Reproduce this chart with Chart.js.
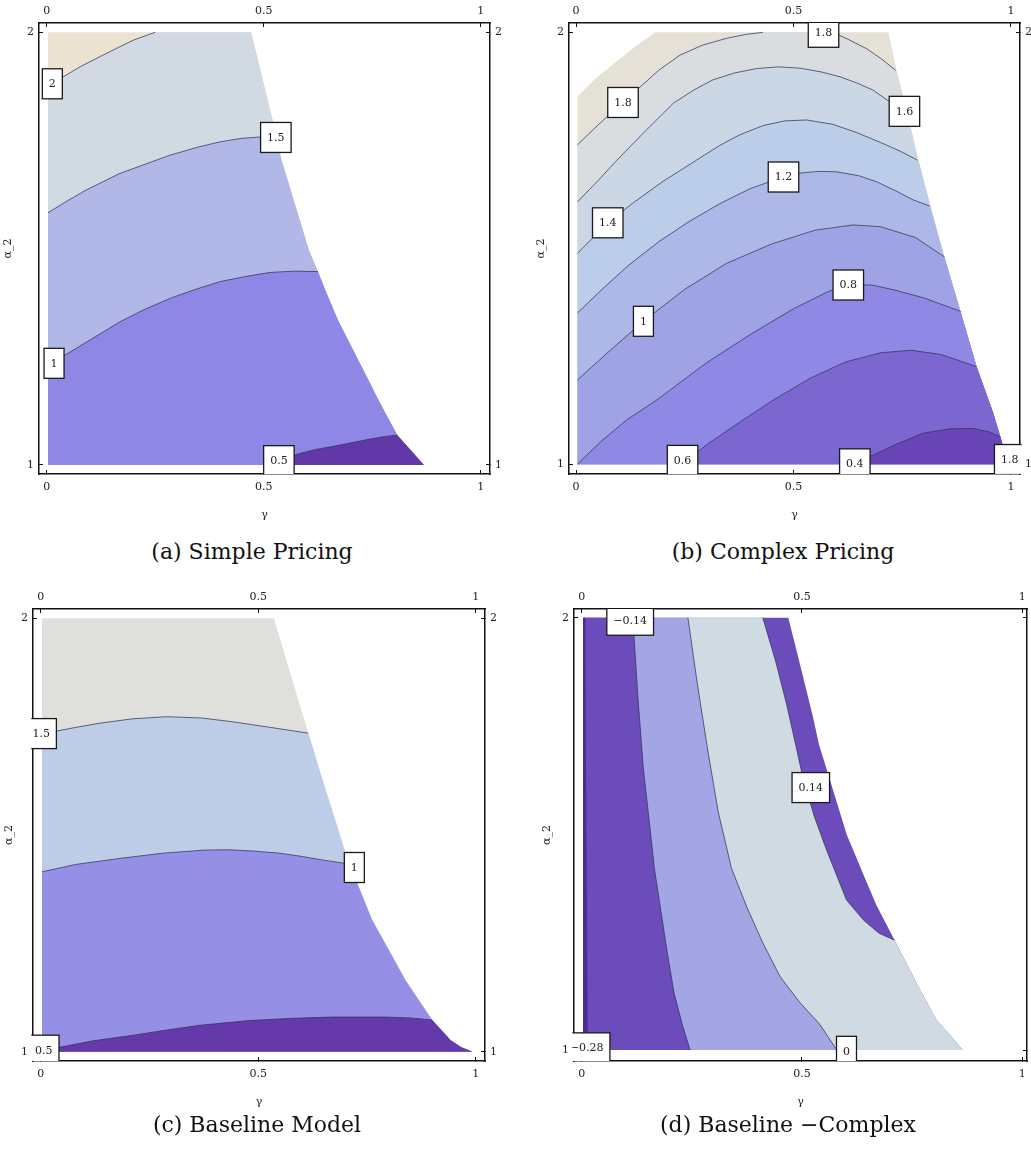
<!DOCTYPE html>
<html>
<head>
<meta charset="utf-8">
<title>Contour comparison of pricing models</title>
<script src="https://cdn.jsdelivr.net/npm/chart.js@4.4.1/dist/chart.umd.min.js"></script>
<style>
  html, body { margin: 0; padding: 0; background: #fff; }
  #page { position: relative; width: 1031px; height: 1155px; overflow: hidden; background: #fff; }
  #page canvas { position: absolute; }
  .cap { position: absolute; font-family: "DejaVu Serif", serif; font-size: 22px; line-height: 22px;
         color: #111; white-space: nowrap; transform: translateX(-50%); }
</style>
</head>
<body>
<div id="page">
  <canvas id="pa"></canvas>
  <canvas id="pb"></canvas>
  <canvas id="pc"></canvas>
  <canvas id="pd"></canvas>
  <div class="cap" style="left:252px; top:541px;">(a) Simple Pricing</div>
  <div class="cap" style="left:783px; top:541px;">(b) Complex Pricing</div>
  <div class="cap" style="left:257px; top:1114px;">(c) Baseline Model</div>
  <div class="cap" style="left:788px; top:1114px;">(d) Baseline −Complex</div>
</div>
<script>
// ---- axes ----
const gammaTicks = [0, 0.5, 1];
const alphaTicks = [1, 2];

// ---- (a) Simple Pricing: points are [gamma, alpha_2] ----
const aEdge = [[0.003,2.0],[0.471,2.0],[0.498,1.89],[0.526,1.774],[0.541,1.705],[0.562,1.636],[0.583,1.566],
  [0.604,1.497],[0.623,1.451],[0.642,1.404],[0.671,1.335],[0.706,1.266],[0.741,1.197],[0.764,1.151],[0.789,1.104],
  [0.808,1.069],[0.838,1.035],[0.869,1.0]];
const aLevel20 = [[0.003,1.875],[0.036,1.896],[0.08,1.922],[0.123,1.944],[0.165,1.965],[0.2,1.982],[0.25,2.0]];
const aLevel15 = [[0.003,1.583],[0.05,1.612],[0.092,1.636],[0.169,1.674],[0.284,1.716],[0.35,1.735],[0.40,1.747],
  [0.45,1.755],[0.49,1.758],[0.53,1.755]];
const aLevel10 = [[0.003,1.23],[0.042,1.254],[0.1,1.289],[0.169,1.331],[0.22,1.357],[0.284,1.385],[0.34,1.405],
  [0.40,1.424],[0.46,1.436],[0.515,1.445],[0.57,1.448],[0.625,1.447]];
const aLevel05 = [[0.50,1.0],[0.535,1.012],[0.57,1.023],[0.62,1.036],[0.676,1.046],[0.745,1.06],[0.78,1.066],[0.808,1.069]];
const aColors = ['#ece3d3','#d1dae2','#b1b8e8','#8e87e5','#6238a9'];
const aLabels = [['2',0.013,1.881],['1.5',0.528,1.757],['1',0.017,1.235],['0.5',0.535,1.01]];

// ---- (b) Complex Pricing ----
const bEdge = [[0.003,1.851],[0.045,1.893],[0.09,1.93],[0.135,1.966],[0.182,2.0],[0.718,2.0],[0.737,1.912],
  [0.762,1.81],[0.787,1.704],[0.814,1.6],[0.844,1.489],[0.883,1.357],[0.921,1.226],[0.959,1.119],[0.979,1.052],[0.99,1.0]];
const bLevel18a = [[0.003,1.739],[0.05,1.785],[0.108,1.8375],[0.147,1.873],[0.19,1.912],[0.239,1.947],[0.29,1.97],
  [0.346,1.986],[0.39,1.995],[0.43,2.0]];
const bLevel18b = [[0.59,2.0],[0.625,1.984],[0.668,1.962],[0.7,1.94],[0.735,1.912]];
const bLevel16 = [[0.003,1.607],[0.05,1.656],[0.094,1.704],[0.16,1.772],[0.224,1.836],[0.27,1.866],[0.315,1.89],
  [0.365,1.906],[0.415,1.916],[0.465,1.92],[0.515,1.917],[0.565,1.908],[0.607,1.897],[0.645,1.883],[0.683,1.866],
  [0.72,1.84],[0.762,1.81]];
const bLevel14 = [[0.003,1.488],[0.073,1.559],[0.13,1.604],[0.2,1.655],[0.277,1.704],[0.33,1.738],[0.377,1.763],
  [0.43,1.784],[0.48,1.795],[0.53,1.797],[0.59,1.787],[0.645,1.768],[0.7,1.745],[0.745,1.725],[0.785,1.704]];
const bLevel12 = [[0.003,1.35],[0.06,1.405],[0.12,1.46],[0.19,1.515],[0.26,1.562],[0.33,1.603],[0.4,1.638],
  [0.477,1.665],[0.513,1.674],[0.56,1.678],[0.599,1.677],[0.65,1.668],[0.691,1.654],[0.735,1.633],[0.775,1.612],[0.813,1.598]];
const bLevel10 = [[0.003,1.195],[0.08,1.265],[0.155,1.331],[0.25,1.405],[0.346,1.465],[0.45,1.51],[0.55,1.542],
  [0.637,1.554],[0.7,1.55],[0.78,1.525],[0.847,1.48]];
const bLevel08 = [[0.003,1.0],[0.06,1.055],[0.117,1.103],[0.186,1.149],[0.3,1.235],[0.4,1.3],[0.5,1.36],[0.58,1.4],
  [0.626,1.415],[0.68,1.415],[0.73,1.404],[0.8,1.385],[0.884,1.354]];
const bLevel06 = [[0.245,1.0],[0.3,1.045],[0.38,1.1],[0.454,1.149],[0.54,1.2],[0.62,1.237],[0.7,1.258],[0.77,1.264],
  [0.84,1.254],[0.921,1.226]];
const bLevel04 = [[0.625,1.0],[0.676,1.018],[0.74,1.048],[0.798,1.072],[0.86,1.082],[0.913,1.083],[0.95,1.075],[0.975,1.064]];
const bColors = ['#e6e1d6','#d9dde0','#cbd7e5','#bccde9','#adb8e8','#9fa3e6','#8f88e5','#7c66d0','#6a45b7'];
const bLabels = [['1.8',0.108,1.8375],['1.8',0.569,2.0],['1.6',0.755,1.817],['1.4',0.073,1.559],['1.2',0.477,1.665],
  ['1',0.155,1.331],['0.8',0.626,1.415],['0.6',0.245,1.009],['0.4',0.641,1.001],['1.8',0.997,1.011]];

// ---- (c) Baseline Model ----
const cEdge = [[0.003,2.0],[0.536,2.0],[0.564,1.906],[0.592,1.812],[0.62,1.72],[0.648,1.627],[0.677,1.535],
  [0.706,1.442],[0.734,1.373],[0.762,1.304],[0.8,1.235],[0.838,1.166],[0.869,1.119],[0.9,1.073],[0.921,1.05],
  [0.942,1.027],[0.966,1.011],[0.993,1.0]];
const cLevel15 = [[0.003,1.733],[0.037,1.74],[0.09,1.75],[0.136,1.758],[0.21,1.768],[0.29,1.773],[0.37,1.77],
  [0.443,1.761],[0.53,1.748],[0.615,1.735]];
const cLevel10 = [[0.003,1.415],[0.08,1.432],[0.182,1.446],[0.28,1.458],[0.374,1.465],[0.43,1.466],[0.489,1.463],
  [0.55,1.458],[0.604,1.45],[0.65,1.442],[0.71,1.433]];
const cLevel05 = [[0.003,1.0],[0.043,1.01],[0.12,1.025],[0.213,1.038],[0.29,1.05],[0.366,1.061],[0.481,1.072],
  [0.58,1.077],[0.673,1.08],[0.788,1.08],[0.85,1.078],[0.9,1.073]];
const cColors = ['#dfe0dc','#bdcde8','#958fe5','#6539a9'];
const cLabels = [['1.5',0.001,1.734],['1',0.721,1.425],['0.5',0.007,1.0035]];

// ---- (d) Baseline - Complex ----
const dEdge = [[0.003,2.0],[0.469,2.0],[0.496,1.89],[0.524,1.774],[0.539,1.705],[0.56,1.636],[0.581,1.566],
  [0.602,1.497],[0.621,1.451],[0.64,1.404],[0.669,1.335],[0.704,1.266],[0.739,1.197],[0.762,1.151],[0.787,1.104],
  [0.806,1.069],[0.836,1.035],[0.865,1.0]];
const dLevelP14 = [[0.411,2.0],[0.44,1.9],[0.465,1.8],[0.487,1.7],[0.503,1.625],[0.528,1.54],[0.556,1.462],
  [0.601,1.347],[0.64,1.3],[0.675,1.27],[0.71,1.254]];
const dLevel0 = [[0.241,2.0],[0.262,1.85],[0.285,1.7],[0.31,1.55],[0.34,1.42],[0.375,1.33],[0.41,1.25],[0.45,1.17],
  [0.495,1.11],[0.54,1.06],[0.579,1.0]];
const dLevelM14 = [[0.116,2.0],[0.128,1.81],[0.14,1.65],[0.151,1.55],[0.165,1.42],[0.18,1.32],[0.195,1.22],
  [0.21,1.13],[0.228,1.06],[0.246,1.0]];
const dLevelM28 = [[0.008,2.0],[0.01,1.6],[0.012,1.3],[0.014,1.0]];
const dColors = ['#6c4bbb','#cfdae2','#a3a5e5','#6c4bbb','#4c2b99'];
const dLabels = [['−0.14',0.110,1.994],['0.14',0.52,1.607],['0',0.601,0.997],['−0.28',0.011,1.005]];

// ---- drawing ----
const LINE_COLOR = 'rgba(50,52,85,0.75)';
const CLEAR = 'rgba(0,0,0,0)';
const tickFont = { family: 'DejaVu Serif', size: 11 };

function toXY(pts) { return pts.map(([x, y]) => ({ x, y })); }

// Closed outline of the part of the domain lying below / left of a contour line;
// s..e is the index range of the contour itself inside that outline.
function regionBelow(contour, edge) {
  const pre = [];
  const first = contour[0], last = contour[contour.length - 1];
  if (first[1] >= 2) pre.push([edge[0][0], 1], [edge[0][0], 2]);   // line enters through the top edge
  else if (first[1] > 1) pre.push([first[0], 1]);                  // line enters through the left edge
  const tail = last[1] > 1 ? edge.filter(p => p[0] > last[0] && p[1] <= last[1]) : [];
  return { pts: [...pre, ...contour, ...tail], s: pre.length, e: pre.length + contour.length - 1 };
}

function axis(position, range, ticksArr, size, pad, title) {
  const horiz = position === 'top' || position === 'bottom';
  return {
    type: 'linear', position, min: range[0], max: range[1],
    afterBuildTicks: s => { s.ticks = ticksArr.map(v => ({ value: v })); },
    afterFit: s => { if (horiz) s.height = size; else s.width = size; },
    grid: { display: true, drawOnChartArea: false, drawTicks: true, tickLength: -4, color: '#111', lineWidth: 1 },
    border: { display: true, color: '#111', width: 1.5 },
    ticks: { padding: pad, font: tickFont, color: '#222', autoSkip: false, maxRotation: 0, minRotation: 0,
             callback: v => String(v) },
    title: title || { display: false }
  };
}

function labelPlugin(items) {
  return {
    id: 'contourLabels',
    afterDatasetsDraw(chart) {
      const { ctx, chartArea: ca, scales } = chart;
      ctx.save();
      ctx.beginPath();
      ctx.rect(ca.left - 1.7, ca.top, ca.right - ca.left + 3.4, ca.bottom - ca.top);
      ctx.clip();
      ctx.font = '11px "DejaVu Serif"';
      ctx.textAlign = 'center';
      ctx.textBaseline = 'middle';
      for (const [text, g, a] of items) {
        const px = scales.x.getPixelForValue(g), py = scales.y.getPixelForValue(a);
        const w = ctx.measureText(text).width + 13, h = 30;
        ctx.fillStyle = '#fff';
        ctx.fillRect(px - w / 2, py - h / 2, w, h);
        ctx.strokeStyle = '#1a1a1a';
        ctx.lineWidth = 1.3;
        ctx.strokeRect(px - w / 2, py - h / 2, w, h);
        ctx.fillStyle = '#222';
        ctx.fillText(text, px, py + 0.5);
      }
      ctx.restore();
    }
  };
}

function buildPanel(p, edge, contours, colors, labels, unstroked) {
  const cv = document.getElementById(p.id);
  cv.width = p.w; cv.height = p.h;
  cv.style.left = p.left + 'px'; cv.style.top = p.top + 'px';
  const [fl, ft, fr, fb] = p.frame;
  const wl = fl - p.left, ht = ft - p.top, wr = p.left + p.w - fr, hb = p.top + p.h - fb;

  const common = { showLine: true, pointRadius: 0, tension: 0 };
  const whole = [[edge[0][0], 1], ...edge];
  const datasets = [{ ...common, data: toXY(whole), fill: { value: 1 }, backgroundColor: colors[0],
                      borderColor: CLEAR, borderWidth: 0, order: 100 }];
  contours.forEach((c, k) => {
    const r = regionBelow(c, edge);
    datasets.push({ ...common, data: toXY(r.pts), fill: { value: 1 }, backgroundColor: colors[k + 1],
                    borderColor: CLEAR, borderWidth: 0, order: 99 - k });
    if (unstroked.includes(k)) return;
    // same outline again, stroked only along the contour part
    datasets.push({ ...common, data: toXY(r.pts), fill: false, borderWidth: 1, order: 0,
      segment: {
        borderColor: s => {
          const i = s.p0DataIndex, j = s.p1DataIndex;
          const onTop = r.pts[i][1] >= 2 && r.pts[j][1] >= 2;
          return (i >= r.s && j <= r.e && !onTop) ? LINE_COLOR : CLEAR;
        }
      } });
  });

  const lh = 11 * 1.2;
  const gammaTitle = { display: true, text: 'γ', color: '#222', font: { family: 'DejaVu Serif', size: 11 },
                       padding: { top: 0, bottom: (p.top + p.h - p.gammaAt) - lh / 2 } };
  const alphaTitle = { display: true, text: 'α_2', color: '#222', font: { family: 'DejaVu Serif', size: 11 },
                       padding: { top: (p.alphaAt - p.left) - lh / 2, bottom: 0 } };

  new Chart(cv, {
    type: 'scatter',
    data: { datasets },
    options: {
      responsive: false, animation: false, devicePixelRatio: 1, events: [],
      layout: { padding: 0 },
      plugins: { legend: { display: false }, tooltip: { enabled: false } },
      scales: {
        x:  axis('bottom', p.x, gammaTicks, hb, 10.9, gammaTitle),
        x2: axis('top',    p.x, gammaTicks, ht, 8.9),
        y:  axis('left',   p.y, alphaTicks, wl, 9, alphaTitle),
        y2: axis('right',  p.y, alphaTicks, wr, 9)
      }
    },
    plugins: [labelPlugin(labels)]
  });
}

const panels = {
  a: { id: 'pa', left: 0,   top: 0,   w: 515, h: 530, frame: [39, 23, 490, 474],   x: [-0.0177, 1.0214], y: [0.9792, 2.0215], gammaAt: 515,  alphaAt: 8 },
  b: { id: 'pb', left: 530, top: 0,   w: 501, h: 530, frame: [569, 23, 1020, 474], x: [-0.0161, 1.0207], y: [0.9775, 2.0215], gammaAt: 515,  alphaAt: 541 },
  c: { id: 'pc', left: 0,   top: 585, w: 515, h: 530, frame: [33, 609, 485, 1061], x: [-0.0177, 1.0214], y: [0.9785, 2.0215], gammaAt: 1102, alphaAt: 9 },
  d: { id: 'pd', left: 530, top: 585, w: 520, h: 530, frame: [574, 609, 1027, 1061], x: [-0.0175, 1.0107], y: [0.9746, 2.020], gammaAt: 1102, alphaAt: 547 }
};

buildPanel(panels.a, aEdge, [aLevel20, aLevel15, aLevel10, aLevel05], aColors, aLabels, []);
buildPanel(panels.b, bEdge,
           [bLevel18a.concat(bLevel18b), bLevel16, bLevel14, bLevel12, bLevel10, bLevel08, bLevel06, bLevel04],
           bColors, bLabels, []);
buildPanel(panels.c, cEdge, [cLevel15, cLevel10, cLevel05], cColors, cLabels, []);
buildPanel(panels.d, dEdge, [dLevelP14, dLevel0, dLevelM14, dLevelM28], dColors, dLabels, [3]);
</script>
</body>
</html>
